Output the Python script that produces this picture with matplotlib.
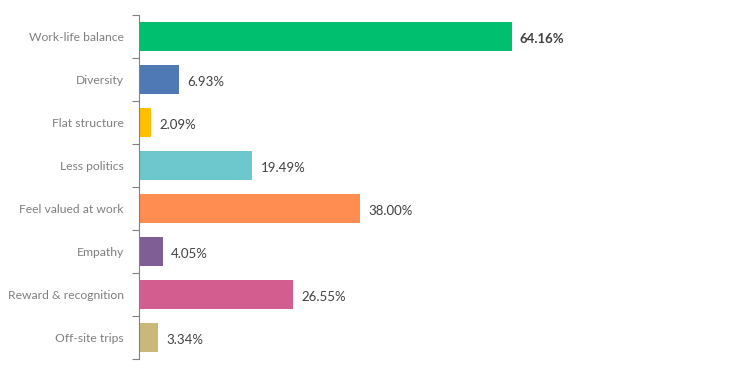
import matplotlib
matplotlib.use("Agg")
import matplotlib.pyplot as plt

categories = ["Work-life balance", "Diversity", "Flat structure", "Less politics",
              "Feel valued at work", "Empathy", "Reward & recognition", "Off-site trips"]
values = [64.16, 6.93, 2.09, 19.49, 38.00, 4.05, 26.55, 3.34]
colors = ["#00bf6f", "#4e79b5", "#ffc000", "#6cc8cc",
          "#ff8c50", "#7f5e96", "#d35d8e", "#c9b87a"]

W, H = 735, 375
fig = plt.figure(figsize=(W / 100, H / 100), dpi=100)
ax = fig.add_axes([139 / W, 16 / H, 581 / W, 344 / H])

y = list(range(len(categories)))
bars = ax.barh(y, values, height=0.67, color=colors)
ax.set_xlim(0, 100)
ax.set_ylim(len(categories) - 0.5, -0.5)

for spine in ["top", "right", "bottom"]:
    ax.spines[spine].set_visible(False)
ax.spines["left"].set_color("#808080")
ax.xaxis.set_visible(False)

# tick marks sit between categories, labels at the centres
ax.set_yticks([i - 0.5 for i in range(len(categories) + 1)], minor=False)
ax.set_yticklabels([])
ax.tick_params(axis="y", which="major", length=5, color="#808080", direction="out")
ax.set_yticks(y, minor=True)
ax.set_yticklabels(categories, minor=True, fontsize=8.7, color="#7f7f7f", family="Lato")
ax.tick_params(axis="y", which="minor", length=0, pad=11)

for i, (bar, val) in enumerate(zip(bars, values)):
    ax.text(bar.get_width() + 1.4, bar.get_y() + bar.get_height() / 2 + 0.06, f"{val:.2f}%",
            va="center", ha="left", fontsize=9.5, color="#404040", family="Lato",
            fontweight="bold" if i == 0 else "normal")

fig.savefig("out.png", dpi=100)
